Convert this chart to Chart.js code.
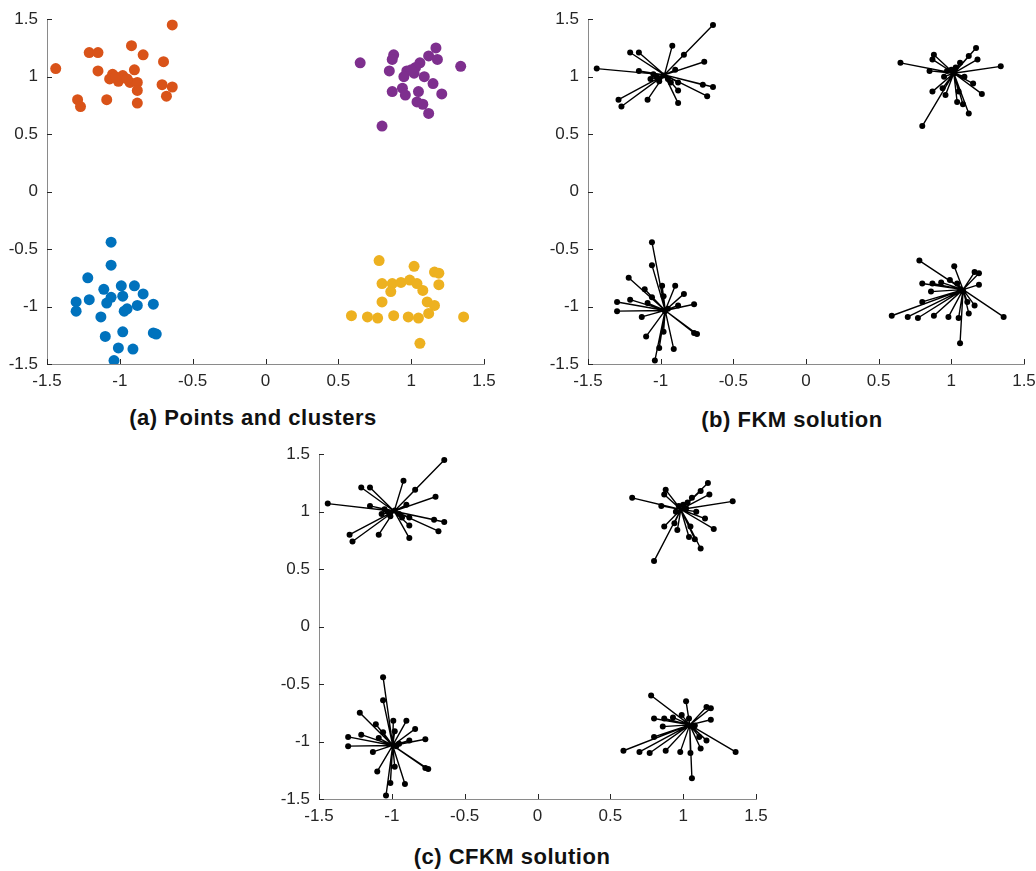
<!DOCTYPE html>
<html>
<head>
<meta charset="utf-8">
<script src="https://cdn.jsdelivr.net/npm/chart.js@4/dist/chart.umd.min.js"></script>
<style>
  html, body { margin: 0; padding: 0; background: #fff; overflow: hidden; }
  #fig { position: relative; width: 1036px; height: 871px; overflow: hidden; }
  .panel { position: absolute; }
  .cap { position: absolute; font-family: "Liberation Sans", Arial, sans-serif; font-weight: bold;
         font-size: 22px; letter-spacing: 0.5px; color: #111; white-space: nowrap; transform: translate(-50%, -50%); }
</style>
</head>
<body>
<div id="fig">
  <div class="panel" style="left:0px;top:0px"><canvas id="chartA" width="508" height="400"></canvas></div>
  <div class="panel" style="left:541px;top:0px"><canvas id="chartB" width="507" height="400"></canvas></div>
  <div class="panel" style="left:272px;top:435px"><canvas id="chartC" width="508" height="400"></canvas></div>
  <div class="cap" style="left:253px;top:418px">(a) Points and clusters</div>
  <div class="cap" style="left:792px;top:420px">(b) FKM solution</div>
  <div class="cap" style="left:512px;top:857px">(c) CFKM solution</div>
</div>
<script>
// data points
const orangeX = [-0.64, -1.44, -1.21, -1.15, -0.92, -0.84, -0.70, -1.15, -0.90, -1.05, -1.07, -1.01, -0.98, -0.93, -0.88, -0.88, -0.71, -0.64, -0.68, -1.29, -1.27, -1.09, -0.88, -1.03, -0.95];
const orangeY = [1.45, 1.07, 1.21, 1.21, 1.27, 1.19, 1.13, 1.05, 1.06, 1.02, 0.98, 0.96, 1.01, 0.95, 0.95, 0.88, 0.93, 0.91, 0.83, 0.80, 0.74, 0.80, 0.77, 1.00, 0.98];
const purpleX = [0.65, 0.80, 1.34, 1.17, 1.12, 1.18, 0.88, 0.87, 0.85, 1.06, 1.03, 0.97, 0.95, 1.02, 1.09, 1.15, 0.87, 0.94, 0.96, 1.05, 1.21, 1.04, 1.08, 1.12, 1.00];
const purpleY = [1.12, 0.57, 1.09, 1.25, 1.18, 1.15, 1.19, 1.15, 1.05, 1.12, 1.08, 1.05, 1.00, 1.03, 1.00, 0.94, 0.87, 0.90, 0.84, 0.87, 0.85, 0.78, 0.76, 0.68, 1.06];
const blueX = [-1.06, -1.06, -1.22, -1.11, -0.99, -0.90, -0.84, -0.98, -1.06, -1.21, -1.30, -1.30, -1.09, -0.77, -0.88, -0.95, -0.97, -1.13, -0.98, -1.10, -0.77, -0.75, -1.01, -0.91, -1.04];
const blueY = [-0.44, -0.64, -0.75, -0.85, -0.82, -0.82, -0.89, -0.91, -0.92, -0.94, -0.96, -1.04, -0.97, -0.98, -0.99, -1.02, -1.04, -1.09, -1.22, -1.26, -1.23, -1.24, -1.36, -1.37, -1.47];
const yellowX = [0.78, 1.02, 1.16, 1.19, 1.19, 0.80, 0.87, 0.93, 0.99, 1.04, 1.08, 0.86, 0.80, 1.11, 1.16, 1.12, 0.59, 0.70, 0.77, 0.88, 0.98, 1.05, 1.36, 1.06];
const yellowY = [-0.60, -0.65, -0.70, -0.71, -0.81, -0.80, -0.80, -0.79, -0.77, -0.80, -0.86, -0.87, -0.96, -0.96, -0.99, -1.06, -1.08, -1.09, -1.10, -1.08, -1.09, -1.10, -1.09, -1.32];

// cluster centres: orange, purple, blue, yellow
const fkmCentreX = [-0.974, 1.017, -0.969, 1.081];
const fkmCentreY = [1.016, 1.030, -1.034, -0.853];
const cfkmCentreX = [-0.984, 0.984, -0.994, 1.045];
const cfkmCentreY = [1.004, 1.019, -1.034, -0.855];

const tickValues = [-1.5, -1, -0.5, 0, 0.5, 1, 1.5];

const clusters = [
  { xs: orangeX, ys: orangeY, color: '#D95319' },
  { xs: purpleX, ys: purpleY, color: '#7E2F8E' },
  { xs: blueX, ys: blueY, color: '#0072BD' },
  { xs: yellowX, ys: yellowY, color: '#EDB120' }
];

function toPoints(xs, ys) {
  return xs.map((x, i) => ({ x: x, y: ys[i] }));
}

// inward tick marks like matlab
const innerTicks = {
  id: 'innerTicks',
  afterDraw(chart) {
    const { ctx, chartArea, scales } = chart;
    ctx.save();
    ctx.strokeStyle = '#262626';
    ctx.lineWidth = 1;
    ctx.beginPath();
    scales.x.ticks.forEach((t, i) => {
      const px = Math.round(scales.x.getPixelForTick(i)) + 0.5;
      ctx.moveTo(px, chartArea.bottom);
      ctx.lineTo(px, chartArea.bottom - 5);
    });
    scales.y.ticks.forEach((t, i) => {
      const py = Math.round(scales.y.getPixelForTick(i)) + 0.5;
      ctx.moveTo(chartArea.left, py);
      ctx.lineTo(chartArea.left + 5, py);
    });
    ctx.stroke();
    ctx.restore();
  }
};

function axisOptions(isX) {
  return {
    type: 'linear',
    min: -1.5,
    max: 1.5,
    grid: { display: false, drawTicks: false },
    border: { display: true, color: '#8a8a8a', width: 1 },
    afterBuildTicks: s => { s.ticks = tickValues.map(v => ({ value: v })); },
    afterFit: s => { if (isX) s.height = 36; else s.width = 47; },
    ticks: {
      color: '#262626',
      padding: isX ? 7 : 9,
      maxRotation: 0,
      callback: v => String(v),
      font: { family: '"Liberation Sans", Arial, sans-serif', size: 17 }
    }
  };
}

function baseOptions() {
  return {
    responsive: false,
    animation: false,
    layout: { padding: { top: 14, right: 24, left: 0, bottom: 0 } },
    plugins: { legend: { display: false }, tooltip: { enabled: false } },
    scales: { x: axisOptions(true), y: axisOptions(false) }
  };
}

// (a) coloured points
new Chart(document.getElementById('chartA'), {
  type: 'scatter',
  data: {
    datasets: clusters.map(c => ({
      data: toPoints(c.xs, c.ys),
      backgroundColor: c.color,
      borderWidth: 0,
      pointRadius: 5.5
    }))
  },
  options: baseOptions(),
  plugins: [innerTicks]
});

// (b) and (c) star plots: each point joined to its centre
function starDatasets(cx, cy) {
  const sets = [];
  clusters.forEach((c, k) => {
    const seg = [];
    c.xs.forEach((x, i) => {
      seg.push({ x: x, y: c.ys[i] });
      seg.push({ x: cx[k], y: cy[k] });
      seg.push({ x: null, y: null });
    });
    sets.push({
      data: seg,
      showLine: true,
      spanGaps: false,
      borderColor: '#000',
      borderWidth: 1.4,
      pointRadius: 0
    });
  });
  clusters.forEach(c => {
    sets.push({
      data: toPoints(c.xs, c.ys),
      backgroundColor: '#000',
      borderWidth: 0,
      pointRadius: 3
    });
  });
  return sets;
}

new Chart(document.getElementById('chartB'), {
  type: 'scatter',
  data: { datasets: starDatasets(fkmCentreX, fkmCentreY) },
  options: baseOptions(),
  plugins: [innerTicks]
});

new Chart(document.getElementById('chartC'), {
  type: 'scatter',
  data: { datasets: starDatasets(cfkmCentreX, cfkmCentreY) },
  options: baseOptions(),
  plugins: [innerTicks]
});
</script>
</body>
</html>
